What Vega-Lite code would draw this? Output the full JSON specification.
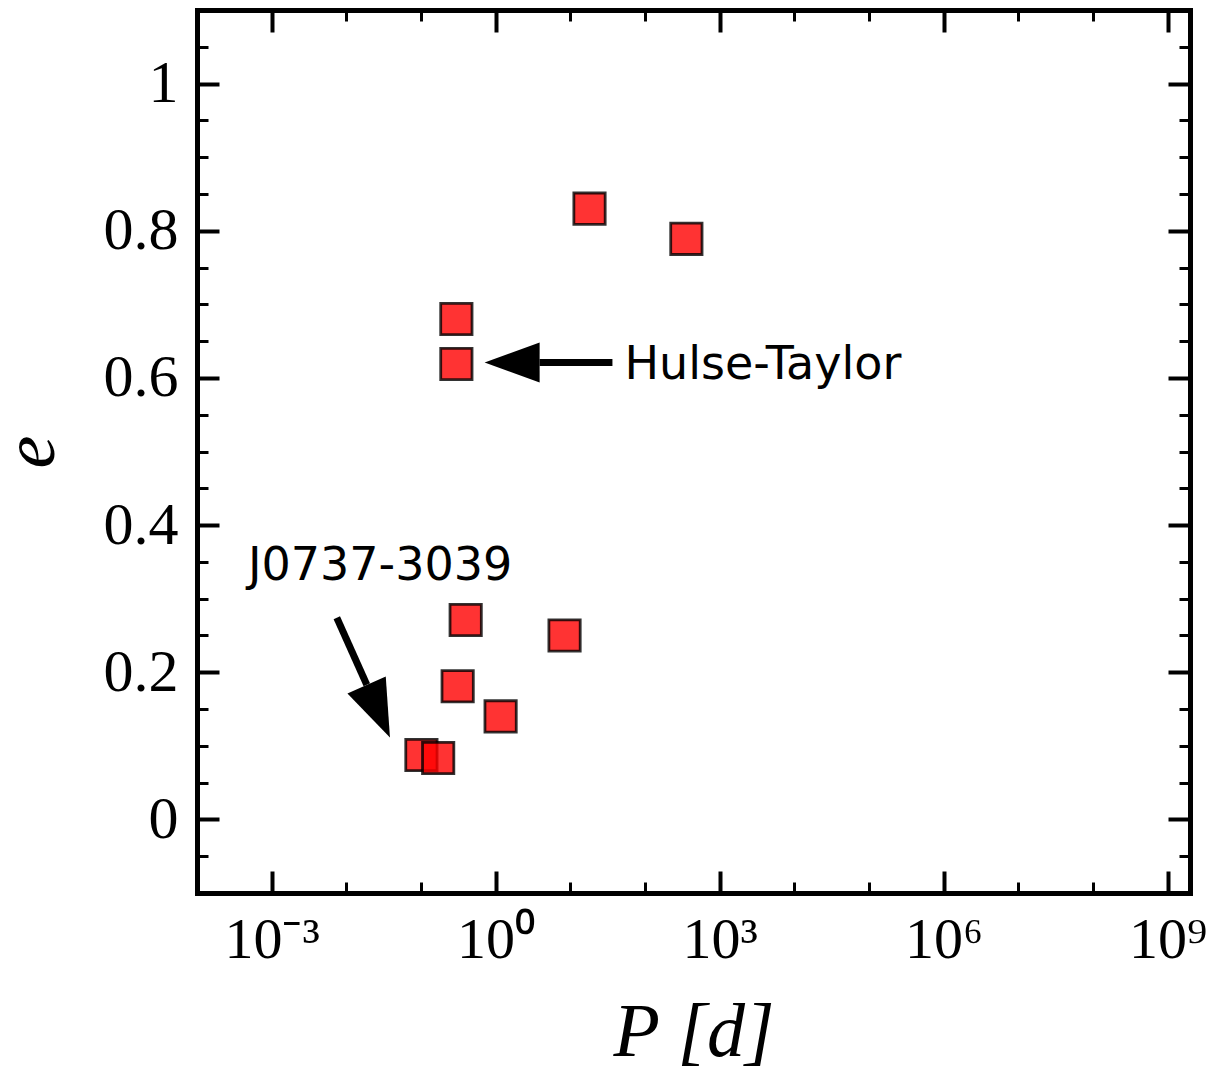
{
  "$schema": "https://vega.github.io/schema/vega-lite/v6.json",
  "width": 993,
  "height": 883,
  "autosize": {"type": "none"},
  "padding": {"left": 197, "top": 10, "right": 19, "bottom": 188},
  "background": "white",
  "config": {"view": {"stroke": null}},
  "layer": [
    {
      "data": {"values": [
        {"P": 18.1, "e": 0.830},
        {"P": 359, "e": 0.789},
        {"P": 0.298, "e": 0.680},
        {"P": 0.298, "e": 0.619},
        {"P": 0.397, "e": 0.271},
        {"P": 8.38, "e": 0.250},
        {"P": 0.310, "e": 0.181},
        {"P": 1.166, "e": 0.140},
        {"P": 0.1014, "e": 0.0875},
        {"P": 0.170, "e": 0.0834}
      ]},
      "mark": {"type": "point", "shape": "square", "filled": true, "fill": "red", "stroke": "black", "strokeWidth": 2.8, "fillOpacity": 0.8, "strokeOpacity": 0.8, "opacity": 1, "size": 980},
      "encoding": {
        "x": {
          "field": "P", "type": "quantitative",
          "scale": {"type": "log", "domain": [0.0001, 2000000000], "nice": false},
          "axis": {
            "orient": "bottom",
            "values": [0.001, 0.01, 0.1, 1, 10, 100, 1000, 10000, 100000, 1000000, 10000000, 100000000, 1000000000],
            "grid": false,
            "tickSize": {"condition": {"test": "round(log(datum.value)/LN10) % 3 === 0", "value": -22}, "value": -11},
            "tickWidth": {"condition": {"test": "round(log(datum.value)/LN10) % 3 === 0", "value": 4}, "value": 3},
            "tickColor": "black",
            "domainColor": "black", "domainWidth": 5, "domainCap": "square",
            "labelExpr": "round(log(datum.value)/LN10) === -3 ? '10⁻³' : round(log(datum.value)/LN10) === 0 ? '10⁰' : round(log(datum.value)/LN10) === 3 ? '10³' : round(log(datum.value)/LN10) === 6 ? '10⁶' : round(log(datum.value)/LN10) === 9 ? '10⁹' : ''",
            "labelFont": "Liberation Serif", "labelFontSize": 58, "labelColor": "black",
            "labelPadding": 40, "labelFlush": false, "labelOverlap": false, "labelBound": false,
            "title": "P [d]", "titleFont": "Liberation Serif", "titleFontSize": 76, "titleFontStyle": "italic", "titleFontWeight": "normal", "titleColor": "black", "titlePadding": 15
          }
        },
        "y": {
          "field": "e", "type": "quantitative",
          "scale": {"domain": [-0.1, 1.1], "nice": false, "zero": false},
          "axis": {
            "orient": "left",
            "values": [-0.05, 0, 0.05, 0.1, 0.15, 0.2, 0.25, 0.3, 0.35, 0.4, 0.45, 0.5, 0.55, 0.6, 0.65, 0.7, 0.75, 0.8, 0.85, 0.9, 0.95, 1, 1.05],
            "grid": false,
            "tickSize": {"condition": {"test": "abs(datum.value*5 - round(datum.value*5)) < 0.000001", "value": -22}, "value": -11},
            "tickWidth": {"condition": {"test": "abs(datum.value*5 - round(datum.value*5)) < 0.000001", "value": 4}, "value": 3},
            "tickColor": "black",
            "domainColor": "black", "domainWidth": 5, "domainCap": "square",
            "labelExpr": "abs(datum.value*5 - round(datum.value*5)) < 0.000001 ? toString(round(datum.value*10)/10) : ''",
            "labelFont": "Liberation Serif", "labelFontSize": 60, "labelColor": "black",
            "labelPadding": 41, "labelFlush": false, "labelOverlap": false, "labelBound": false,
            "title": "e", "titleFont": "Liberation Serif", "titleFontSize": 74, "titleFontStyle": "italic", "titleFontWeight": "normal", "titleColor": "black", "titlePadding": 34
          }
        }
      }
    },
    {
      "data": {"values": [
        {"P": 53.2, "e": 0.598, "label": "Hulse-Taylor"},
        {"P": 0.000481, "e": 0.3256, "label": "J0737-3039"}
      ]},
      "mark": {"type": "text", "align": "left", "baseline": "alphabetic", "font": "DejaVu Sans", "fontSize": 46, "color": "black"},
      "encoding": {
        "text": {"field": "label"},
        "x": {
          "field": "P", "type": "quantitative",
          "axis": {
            "orient": "top",
            "values": [0.001, 0.01, 0.1, 1, 10, 100, 1000, 10000, 100000, 1000000, 10000000, 100000000, 1000000000],
            "grid": false, "labels": false, "title": null,
            "tickSize": {"condition": {"test": "round(log(datum.value)/LN10) % 3 === 0", "value": -22}, "value": -11},
            "tickWidth": {"condition": {"test": "round(log(datum.value)/LN10) % 3 === 0", "value": 4}, "value": 3},
            "tickColor": "black",
            "domainColor": "black", "domainWidth": 5, "domainCap": "square"
          }
        },
        "y": {
          "field": "e", "type": "quantitative",
          "axis": {
            "orient": "right",
            "values": [-0.05, 0, 0.05, 0.1, 0.15, 0.2, 0.25, 0.3, 0.35, 0.4, 0.45, 0.5, 0.55, 0.6, 0.65, 0.7, 0.75, 0.8, 0.85, 0.9, 0.95, 1, 1.05],
            "grid": false, "labels": false, "title": null,
            "tickSize": {"condition": {"test": "abs(datum.value*5 - round(datum.value*5)) < 0.000001", "value": -22}, "value": -11},
            "tickWidth": {"condition": {"test": "abs(datum.value*5 - round(datum.value*5)) < 0.000001", "value": 4}, "value": 3},
            "tickColor": "black",
            "domainColor": "black", "domainWidth": 5, "domainCap": "square"
          }
        }
      }
    },
    {
      "data": {"values": [
        {"P": 36.7, "e": 0.621, "P2": 3.88, "e2": 0.621},
        {"P": 0.00746, "e": 0.274, "P2": 0.0188, "e2": 0.183}
      ]},
      "mark": {"type": "rule", "color": "black", "strokeWidth": 7, "strokeCap": "butt"},
      "encoding": {
        "x": {"field": "P", "type": "quantitative", "axis": null},
        "y": {"field": "e", "type": "quantitative", "axis": null},
        "x2": {"field": "P2"},
        "y2": {"field": "e2"}
      }
    },
    {
      "data": {"values": [{"P": 1.663, "e": 0.621}]},
      "mark": {"type": "point", "shape": "M-1,0L1,-0.73L1,0.73Z", "filled": true, "fill": "black", "stroke": null, "opacity": 1, "size": 3025, "angle": 0},
      "encoding": {
        "x": {"field": "P", "type": "quantitative", "axis": null},
        "y": {"field": "e", "type": "quantitative", "axis": null}
      }
    },
    {
      "data": {"values": [{"P": 0.0268, "e": 0.147}]},
      "mark": {"type": "point", "shape": "M-1,0L1,-0.73L1,0.73Z", "filled": true, "fill": "black", "stroke": null, "opacity": 1, "size": 3300, "angle": 246},
      "encoding": {
        "x": {"field": "P", "type": "quantitative", "axis": null},
        "y": {"field": "e", "type": "quantitative", "axis": null}
      }
    }
  ],
  "resolve": {"axis": {"x": "independent", "y": "independent"}}
}
